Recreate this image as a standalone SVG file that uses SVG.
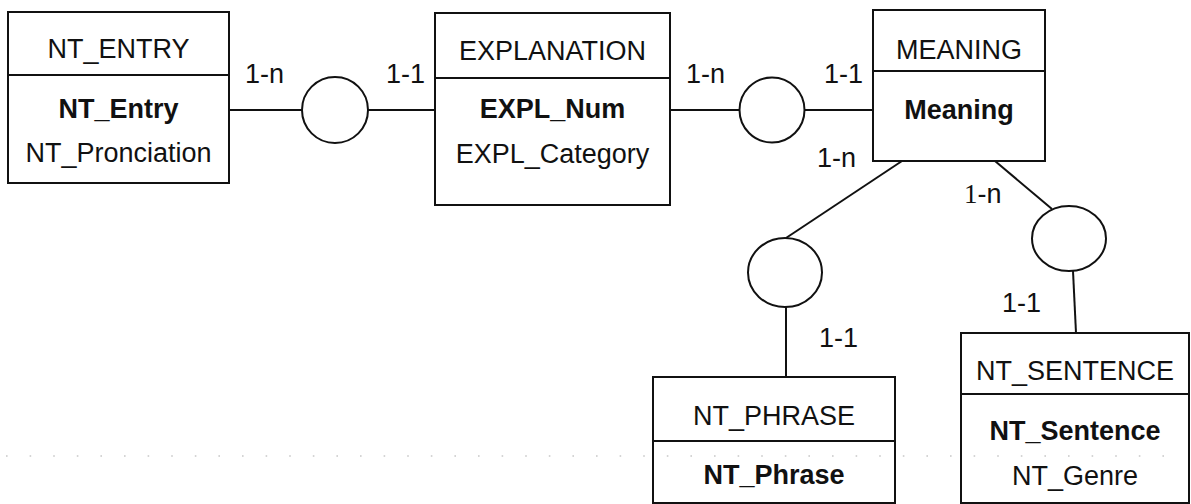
<svg xmlns="http://www.w3.org/2000/svg" width="1191" height="504" viewBox="0 0 1191 504">
<style>
.box{fill:#fff;stroke:#111;stroke-width:2}
.ln{fill:none;stroke:#111;stroke-width:2}
.rel{fill:#fff;stroke:#111;stroke-width:2}
text{font-family:"Liberation Sans",Arial,sans-serif;font-size:27px;fill:#111}
.c{text-anchor:middle}
.b{font-weight:bold}
.ser{font-family:"Liberation Serif","Times New Roman",serif}
</style>
<rect width="1191" height="504" fill="#fff"/>
<g id="connectors">
<line class="ln" x1="229" y1="110" x2="302" y2="110"/>
<line class="ln" x1="368" y1="110" x2="435" y2="110"/>
<line class="ln" x1="670" y1="110" x2="740" y2="110"/>
<line class="ln" x1="805" y1="110" x2="873" y2="110"/>
<line class="ln" x1="902" y1="161" x2="786" y2="238"/>
<line class="ln" x1="786" y1="307" x2="786" y2="377"/>
<line class="ln" x1="995" y1="161" x2="1052" y2="209"/>
<line class="ln" x1="1073" y1="271" x2="1076" y2="333"/>
<text x="245" y="83">1-n</text>
<text x="386" y="83">1-1</text>
<text x="686" y="83">1-n</text>
<text x="824" y="83">1-1</text>
<text x="817" y="167">1-n</text>
<text x="964" y="203"><tspan class="ser">1</tspan>-n</text>
<text x="819" y="347">1-1</text>
<text x="1002" y="312">1-1</text>
</g>
<g id="rel1"><circle class="rel" cx="335" cy="110" r="33"/></g>
<g id="rel2"><circle class="rel" cx="772" cy="110" r="32.5"/></g>
<g id="rel3"><ellipse class="rel" cx="785" cy="272.5" rx="37" ry="34.5"/></g>
<g id="rel4"><ellipse class="rel" cx="1069" cy="238.5" rx="37" ry="32.5"/></g>
<g id="nt_entry">
<rect class="box" x="8" y="12" width="221" height="171"/>
<line class="ln" x1="8" y1="75" x2="229" y2="75"/>
<text class="c" x="118.5" y="58">NT_ENTRY</text>
<text class="c b" x="118.5" y="118">NT_Entry</text>
<text class="c" x="118.5" y="162">NT_Pronciation</text>
</g>
<g id="explanation">
<rect class="box" x="435" y="13" width="235" height="192"/>
<line class="ln" x1="435" y1="78" x2="670" y2="78"/>
<text class="c" x="552.5" y="60">EXPLANATION</text>
<text class="c b" x="552.5" y="118">EXPL_Num</text>
<text class="c" x="552.5" y="163">EXPL_Category</text>
</g>
<g id="meaning">
<rect class="box" x="873" y="10" width="172" height="151"/>
<line class="ln" x1="873" y1="71" x2="1045" y2="71"/>
<text class="c" x="959" y="59">MEANING</text>
<text class="c b" x="959" y="119">Meaning</text>
</g>
<g id="nt_phrase">
<rect class="box" x="653" y="377" width="242" height="126"/>
<line class="ln" x1="653" y1="441" x2="895" y2="441"/>
<text class="c" x="774" y="425">NT_PHRASE</text>
<text class="c b" x="774" y="484">NT_Phrase</text>
</g>
<g id="nt_sentence">
<rect class="box" x="961" y="333" width="228" height="170"/>
<line class="ln" x1="961" y1="394" x2="1189" y2="394"/>
<text class="c" x="1075" y="380">NT_SENTENCE</text>
<text class="c b" x="1075" y="440">NT_Sentence</text>
<text class="c" x="1075" y="485">NT_Genre</text>
</g>
<line x1="6" y1="456" x2="1185" y2="456" stroke="#c8c8c8" stroke-width="1.6" stroke-dasharray="1.6 22"/>
</svg>
